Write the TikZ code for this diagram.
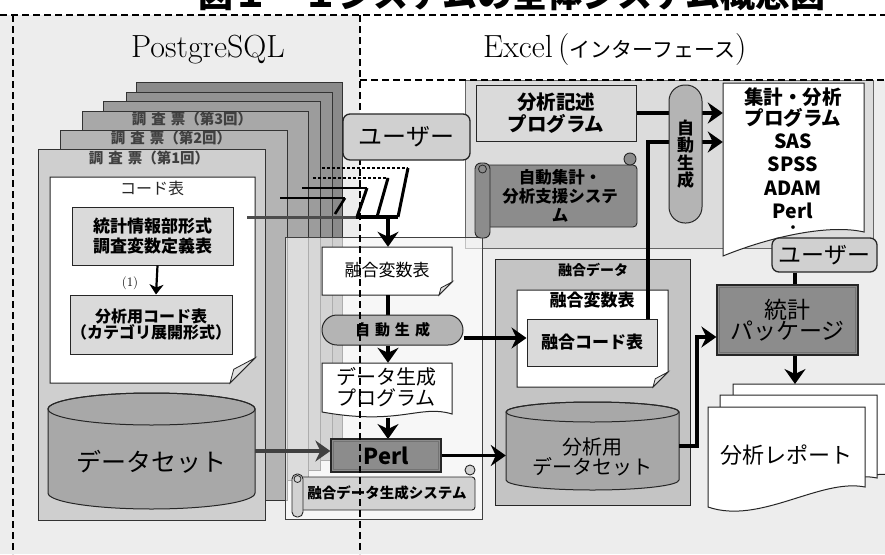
\documentclass[tikz,border=0pt]{standalone}
\usepackage{fontspec}
\newfontfamily\jp{Noto Sans CJK JP}
\usetikzlibrary{arrows.meta}
\definecolor{bgc}{HTML}{EDEDED}
\definecolor{lightf}{HTML}{DADADA}
\definecolor{userf}{HTML}{D0D0D0}
\definecolor{pillf}{HTML}{B4B4B4}
\definecolor{darkf}{HTML}{8C8C8C}
\definecolor{cylf}{HTML}{A8A8A8}
\definecolor{panelf}{HTML}{DCDCDC}
\definecolor{fdf}{HTML}{C4C4C4}
\definecolor{scrf}{HTML}{D2D2D2}
\definecolor{sA}{HTML}{CFCFCF}
\definecolor{sB}{HTML}{B4B4B4}
\definecolor{sC}{HTML}{A8A8A8}
\definecolor{sD}{HTML}{9C9C9C}
\definecolor{sE}{HTML}{939393}
\definecolor{sF}{HTML}{8A8A8A}
\newcommand\fdoc[5]{%
  \filldraw[fill=white, draw=black!85, line width=1pt] (#1,#2) -- (#3,#2) -- (#3,#4-#5) -- (#3-#5,#4) -- (#1,#4) -- cycle;
  \filldraw[fill=black!12, draw=black!85, line width=0.8pt] (#3,#4-#5) -- (#3-0.85*#5,#4-0.55*#5) -- (#3-#5,#4) -- cycle;}
\begin{document}
\begin{tikzpicture}[x=1pt,y=-1pt,
  jr/.style n args={2}{font=\jp\fontsize{#1}{#2}\selectfont, align=center},
  jb/.style n args={2}{font=\jp\bfseries\fontsize{#1}{#2}\selectfont, align=center},
  bx/.style={draw=black!85, line width=1pt, inner sep=0pt, align=center},
  lbox/.style={bx, fill=lightf},
  ubox/.style={bx, fill=userf, rounded corners=7pt, line width=1.3pt},
  pill/.style={bx, fill=pillf},
  dbox/.style={bx, fill=darkf, line width=1.3pt},
  hold/.style={inner sep=0pt, align=center},
  arr/.style={line width=3.6pt, -{Stealth[length=15pt,width=21pt,inset=5pt]}},
  thk/.style={line width=3.6pt},
  dsh/.style={line width=1.4pt, dash pattern=on 7pt off 4pt},
  sheet/.style={draw=black!80, line width=0.9pt},
  dotl/.style={line width=2pt, dash pattern=on 2.5pt off 2.5pt}
]
\path[use as bounding box] (0,0) rectangle (885,554);
\begin{scope}
\clip (0,0) rectangle (885,554);
% backgrounds
\fill[bgc] (0,15) rectangle (885,554);
\fill[white] (360,15) rectangle (885,80);
\fill[white] (360,80) rectangle (467,237);
% title
\node[jb={35}{40}, anchor=base] (title) at (512,7) {図１－１システムの全体システム概念図};
% region labels
\node[font=\fontsize{32}{36}\selectfont, anchor=base] (pg) at (208,57) {PostgreSQL};
\node[font=\fontsize{32}{36}\selectfont, anchor=base west, inner sep=0pt] (xl) at (483,57) {Excel\,({\jp\fontsize{21}{24}\selectfont インターフェース})};
% Excel panel
\filldraw[fill=panelf, draw=black!60, line width=0.8pt] (465,80) rectangle (873,248);

% stack of survey sheets
\filldraw[sheet, fill=sF] (136,82) rectangle (342,450);
\filldraw[sheet, fill=sE] (126,92) rectangle (332,460);
\filldraw[sheet, fill=sD] (103,101) rectangle (320,470);
\filldraw[sheet, fill=sC] (82,111) rectangle (308,480);
\filldraw[sheet, fill=sB] (60,130) rectangle (287,500);
\filldraw[sheet, fill=sA] (38,149) rectangle (265,520);
\node[jb={14.5}{16}, text=black!75] (r3) at (192,119) {調\hspace{5pt}査\hspace{5pt}票（第3回）};
\node[jb={14.5}{16}, text=black!75] (r2) at (171,138) {調\hspace{5pt}査\hspace{5pt}票（第2回）};
\node[jb={14.5}{16}, text=black!75] (r1) at (149,158) {調\hspace{5pt}査\hspace{5pt}票（第1回）};

% code table document
\fdoc{50}{177}{255}{383}{25}
\node[jr={16}{18}, text=black!85] (codet) at (152,188) {コード表};
\node[lbox, jb={17}{19.5}, minimum width=161, minimum height=58] (stat) at (152.5,236) {統計情報部形式\\調査変数定義表};
\node[lbox, jb={16}{16}, minimum width=162, minimum height=59] (anal) at (151,324.5) {分析用コード表\\（カテゴリ展開形式）};
\draw[line width=2.2pt, -{Stealth[length=10pt,width=14pt,inset=3pt]}] ([xshift=5pt]stat.south) -- ([xshift=5pt]anal.north);
\node[font=\fontsize{13}{15}\selectfont] (lab1) at (130,283) {(1)};

% dataset cylinder
\filldraw[fill=cylf, draw=black!85, line width=1pt] (48,409) -- (48,493) arc[start angle=180,end angle=360,x radius=103.5pt,y radius=16pt] -- (255,409) arc[start angle=0,end angle=180,x radius=103.5pt,y radius=16pt] -- cycle;
\draw[black!85, line width=1pt] (151.5,409) ellipse [x radius=103.5pt, y radius=16pt];
\node[hold, minimum width=207, minimum height=116] (ds) at (151.5,451) {};
\node[jr={25}{28}] (dstx) at (151.5,462) {データセット};

% merge-system panel (translucent)
\filldraw[fill=white, fill opacity=0.6, draw=black!75, line width=0.8pt] (285,237) rectangle (482,519);

% merging lines from the survey rounds
\coordinate (m0) at (388,217);
\draw[line width=3pt, black!70] (247,217) -- (360,217);
\draw[line width=3.6pt] (356,217) -- (398,217);
\draw[line width=1.8pt] (280,198) -- (345,198);
\draw[line width=2.6pt] (345,198) -- (335,214);
\draw[line width=1.8pt] (302,188) -- (367,188);
\draw[line width=3pt] (367,188) -- (357,217);
\draw[dotl] (313,178) -- (388,178);
\draw[line width=3pt] (388,178) -- (377,217);
\draw[dotl] (322,168) -- (408,168);
\draw[line width=3pt] (408,168) -- (398,217);

% left flow
\fdoc{322}{247}{452}{295}{13}
\node[hold, minimum width=130, minimum height=48] (fvl) at (387,271) {};
\node[jr={17}{19}] (fvlt) at (387,270) {融合変数表};
\draw[arr] (m0) -- (m0 |- fvl.north);
\draw[thk] (m0 |- fvl.south) -- (m0 |- 315,315);
\node[pill, jb={15}{17}, minimum width=141, minimum height=30, rounded corners=15pt] (ag) at (392.5,330) {自\,\,動\,\,生\,\,成};
\filldraw[fill=white, draw=black!85, line width=1pt] (322,363) -- (452,363) -- (452,414) .. controls (420,404) and (400,426) .. (322,412) -- cycle;
\node[hold, minimum width=130, minimum height=56] (dgp) at (387,391) {};
\node[jr={20}{21.5}] (dgpt) at (386,387) {データ生成\\プログラム};
\draw[arr] (m0 |- ag.south) -- (m0 |- dgp.north);
\draw[arr] (m0 |- 0,418) -- (m0 |- 0,439);
\node[dbox, minimum width=110, minimum height=33] (perl) at (386,455.5) {};
\draw[black!55, line width=0.8pt] ([shift={(3pt,-3pt)}]perl.north west) rectangle ([shift={(-3pt,3pt)}]perl.south east);
\node[font=\jp\bfseries\fontsize{22}{24}\selectfont] (perlt) at (386,456) {Perl};
\draw[arr, black!75] (ds.east) -- (ds.east -| perl.west);

% scroll: fusion data generation system
\filldraw[fill=scrf, draw=black!85, line width=0.9pt, rounded corners=3pt] (297,477) rectangle (475,510);
\filldraw[fill=scrf, draw=black!85, line width=0.9pt] (470,470) circle (5pt);
\filldraw[fill=scrf, draw=black!85, line width=0.9pt, rounded corners=5pt] (292,474) rectangle (303,517);
\draw[black!85, line width=0.8pt] (297.5,479) circle (3.5pt);
\node[jb={14.5}{16}] (fsys) at (387,493) {融合データ生成システム};

% Excel side: description program
\node[lbox, jb={19.5}{22}, minimum width=160, minimum height=56] (desc) at (556,113) {分析記述\\プログラム};
% scroll: auto aggregation system
\filldraw[fill=darkf, draw=black!85, line width=0.9pt, rounded corners=4pt] (479,165) rectangle (637,227);
\filldraw[fill=darkf, draw=black!85, line width=0.9pt] (630,159) circle (6pt);
\filldraw[fill=darkf, draw=black!85, line width=0.9pt, rounded corners=6pt] (475,163) rectangle (490,238);
\draw[black!85, line width=0.8pt] (482.5,169) circle (4pt);
\node[jb={16.5}{19}] (asys) at (560,196) {自動集計・\\分析支援システ\\ム};

% aggregation/analysis program document
\filldraw[fill=white, draw=black!85, line width=1pt] (723,83) -- (864,83) -- (864,232) .. controls (830,224) and (772,236) .. (723,256) -- cycle;
\node[hold, minimum width=141, minimum height=174] (aprog) at (793.5,170) {};
\node[jb={19.5}{21}] (aprogt) at (793,108) {集計・分析\\プログラム};
\node[font=\jp\bfseries\fontsize{19.5}{23.5}\selectfont, align=center] (langs) at (793,176) {SAS\\SPSS\\ADAM\\Perl};
\node[font=\jp\bfseries\fontsize{13}{14}\selectfont, inner sep=1pt] (ldot) at (793,229) {・};

% fusion data panel
\node[bx, fill=fdf, minimum width=195, minimum height=246] (fdp) at (592.5,382) {};
\node[jb={14}{16}] (fdl) at (593,270) {融合データ};
\fdoc{517}{290}{668}{387}{15}
\node[hold, minimum width=151, minimum height=97] (fvr) at (592.5,338.5) {};
\node[jb={17}{19}] (fvrt) at (592,300) {融合変数表};
\node[lbox, jb={17}{19}, minimum width=130, minimum height=47] (fcode) at (592,342.5) {融合コード表};
\filldraw[fill=cylf, draw=black!85, line width=1pt] (506,412) -- (506,480) arc[start angle=180,end angle=360,x radius=86.5pt,y radius=10pt] -- (679,412) arc[start angle=0,end angle=180,x radius=86.5pt,y radius=10pt] -- cycle;
\draw[black!85, line width=1pt] (592.5,412) ellipse [x radius=86.5pt, y radius=10pt];
\node[hold, minimum width=173, minimum height=88] (ads) at (592.5,446) {};
\node[jr={20}{20}] (adst) at (592,457) {分析用\\データセット};

% connectors on the Excel side
\draw[arr] (perl.east) -- (perl.east -| ads.west);
\coordinate (agout) at ([yshift=-8pt]ag.east);
\draw[arr] (agout) -- (agout -| fcode.west);
\coordinate (j1) at (648,142);
\draw[arr] (fcode.north -| j1) |- (j1 -| aprog.west);
\draw[arr] (desc.east) -- (desc.east -| aprog.west);
\node[pill, jb={17}{17.5}, minimum width=33, minimum height=138, rounded corners=16pt] (ag2) at (685.5,154) {自\\動\\生\\成};

% user (right) and statistics package
\coordinate (cx) at (795,0);
\node[ubox, jr={23}{25}, minimum width=105, minimum height=34] (user2) at (824.5,255) {ユーザー};
\node[dbox, jr={23}{21}, minimum width=141, minimum height=70] (pkg) at (787.5,320) {統計\\パッケージ};
\draw[black!55, line width=0.8pt] ([shift={(3pt,-3pt)}]pkg.north west) rectangle ([shift={(-3pt,3pt)}]pkg.south east);
\draw[thk] (user2.south -| cx) -- (pkg.north -| cx);
\draw[arr] (ads.east) -- ++(18,0) |- ([yshift=-17pt]pkg.west);

% report stack
\filldraw[fill=white, draw=black!85, line width=1pt] (733,384) -- (892,384) -- (892,474) -- (733,480) -- cycle;
\filldraw[fill=white, draw=black!85, line width=1pt] (720,395) -- (877,395) -- (877,478) .. controls (840,470) and (790,505) .. (720,495) -- cycle;
\filldraw[fill=white, draw=black!85, line width=1pt] (708,407) -- (865,407) -- (865,487) .. controls (820,478) and (760,525) .. (708,507) -- cycle;
\node[hold, minimum width=157, minimum height=100] (rep) at (786.5,457) {};
\node[jr={22}{24}] (rept) at (786,455) {分析レポート};
\coordinate (reptop) at (795,384);
\draw[arr] (pkg.south -| cx) -- (reptop);

% dashed frame lines
\draw[dsh] (0,15) -- (885,15);
\draw[dsh] (13,15) -- (13,554);
\draw[dsh] (360,80) -- (885,80);
\draw[dsh] (360,15) -- (360,554);

% user (top)
\node[ubox, jr={24}{26}, minimum width=127, minimum height=46] (user1) at (406.5,137) {ユーザー};
\end{scope}
\end{tikzpicture}
\end{document}
